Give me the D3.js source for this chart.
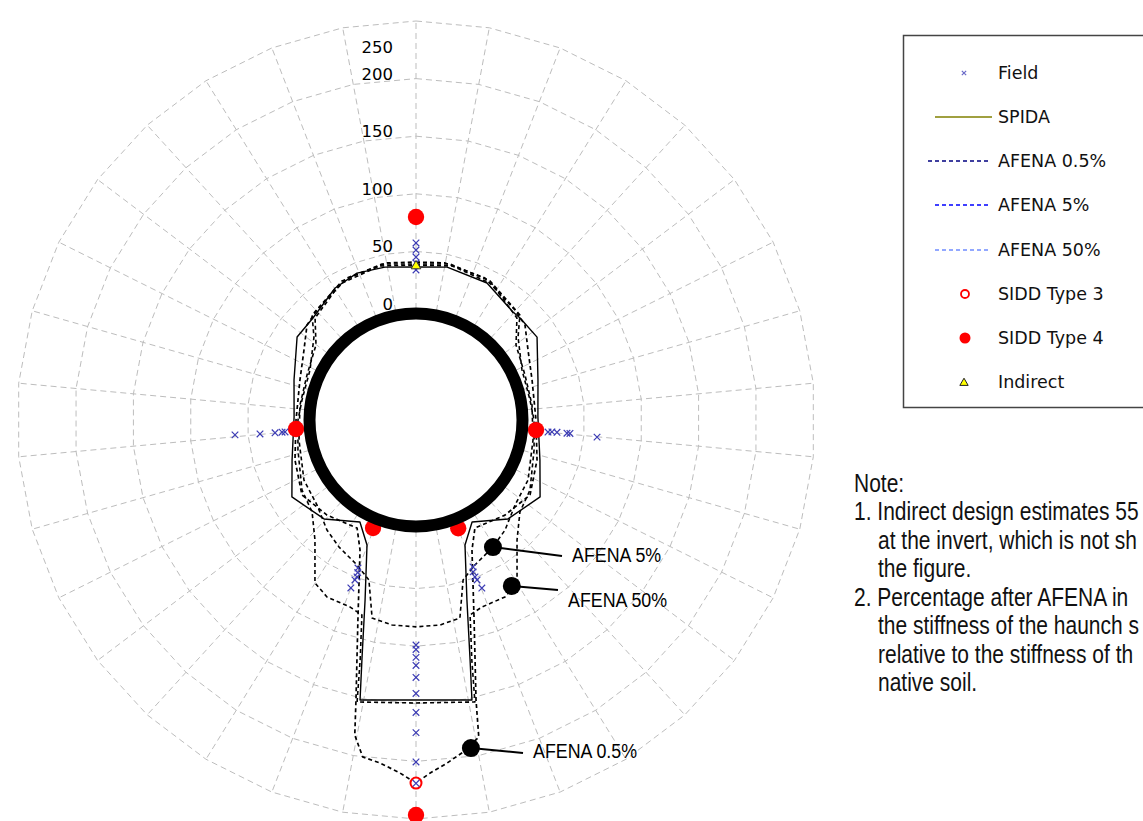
<!DOCTYPE html>
<html><head><meta charset="utf-8">
<script src="https://cdn.jsdelivr.net/npm/d3@7"></script>
<style>body{margin:0;background:#fff}</style>
</head><body><svg id="c" width="1143" height="821"></svg>
<script>
// ---------- DATA ----------
const radialTicks = [0, 50, 100, 150, 200, 250];
const spokeCount = 34;

// angles in degrees clockwise from crown, values in radial units
const spidaAngle = [0, 11.5, 27.4, 41.9, 45.6, 55.6, 71.8, 88.6, 107.9, 121.8, 137.1, 151.2, 158.6, 164.2, 167.3, 168.7, 180, 191.3, 192.7, 195.8, 201.4, 208.8, 222.9, 238.2, 252.1, 271.4, 288.2, 304.9, 314.7, 328.5, 338.1, 348.5];
const spidaValue = [36.5, 39.1, 37.6, 29.7, 30.1, 31, 15.1, 9.5, 16.7, 30.4, 20.9, 4.7, 20.2, 66, 117.2, 151.5, 146.7, 151.5, 117.2, 66, 20.2, 4.7, 20.9, 30.4, 16.7, 9.5, 15.1, 29.5, 29.5, 38, 41, 39.1];

const afena05Angle = [0, 10.5, 25.9, 42, 48.9, 58, 71, 90, 108.3, 123.3, 136.9, 151.4, 156.7, 163.8, 167.9, 168.8, 171.9, 174.8, 177.7, 180, 182.6, 186, 189, 191, 192.1, 196.2, 203.3, 208.6, 223.1, 236.7, 251.7, 270, 289, 302, 311.1, 318, 334.1, 349.5];
const afena05Value = [40.8, 42.3, 40.7, 32.1, 29.2, 18.3, 10.2, 7.8, 14.3, 22.1, 16.7, 10.5, 26.5, 84.4, 152.2, 184.2, 194.7, 202.6, 210.3, 218.8, 210.4, 203, 199.7, 182.2, 152.2, 84.4, 26.5, 10.5, 16.7, 22.1, 14.3, 7.8, 10.2, 18.3, 29.2, 32.1, 40.7, 42.3];

const afena5Angle = [0, 13.2, 29.2, 44.7, 53.1, 67.6, 82.6, 99.7, 118.2, 130.6, 141, 148.8, 157.9, 163.6, 167.5, 173.3, 180, 186.7, 192.5, 196.4, 202.1, 211.2, 219, 229.4, 241.8, 260.3, 277.4, 292.4, 306.9, 315.3, 330.8, 346.8];
const afena5Value = [38.2, 41, 38.9, 28.2, 12.2, 6, 5.2, 6.7, 14, 16.9, 26.5, 32.6, 39.5, 48.4, 79.7, 82.8, 83.2, 82.8, 79.7, 48.4, 39.5, 32.6, 26.5, 16.9, 14, 6.7, 5.2, 6, 12.2, 28.2, 38.9, 41];

const afena50Angle = [0, 12.3, 28, 44.7, 50.9, 64.7, 80, 90, 104.3, 121.6, 131.5, 139.9, 148.2, 153.3, 160.6, 164.5, 166.9, 168.2, 180, 191.8, 193.1, 195.5, 199.4, 206.7, 211.8, 220.1, 228.5, 238.4, 255.7, 270, 280, 295.3, 309.1, 315.3, 332, 347.7];
const afena50Value = [39.1, 42.3, 40.4, 31.9, 17.8, 5.4, 4.1, 6.1, 9.4, 19.8, 24.1, 39.8, 70.1, 75.6, 75.8, 79.3, 117.5, 153.7, 149.3, 153.7, 117.5, 79.3, 75.8, 75.6, 70.1, 39.8, 24.1, 19.8, 9.4, 6.1, 4.1, 5.4, 17.8, 31.9, 40.4, 42.3];

const fieldAngle = [0, 0, 0, 0, 0, 95.2, 95, 95, 95, 95, 95.4, 264.8, 264.8, 264.8, 264.9, 265.3, 158.8, 159.4, 159.4, 159.1, 158.6, 201.4, 200.9, 200.6, 200.9, 201.2, 180, 180, 180, 180, 180, 180, 180, 180, 180, 180];
const fieldValue = [57.3, 51.2, 45.1, 39.9, 33.9, 18.7, 22.1, 26.5, 35.2, 37.8, 61.5, 17.8, 20.4, 26.5, 39.6, 61.3, 40.5, 44.5, 49.2, 52.3, 60.3, 41.7, 45.4, 49.2, 52.3, 60, 99, 102.8, 109.7, 116.7, 127.1, 141, 157.5, 175, 200.5, 219];

const sidd3Angle = [0, 94.8, 158.7, 180, 201.7, 265.7];
const sidd3Value = [79.9, 8.2, 4.5, 218.8, 4.5, 8.1];
const sidd4Angle = [0, 94.8, 158.7, 180, 201.7, 265.7];
const sidd4Value = [79.9, 8.2, 4.5, 246.5, 4.5, 8.1];
const indirectAngle = [0];
const indirectValue = [37.3];

const legendLabels = ["Field", "SPIDA", "AFENA 0.5%", "AFENA 5%", "AFENA 50%", "SIDD Type 3", "SIDD Type 4", "Indirect"];
const calloutLabels = ["AFENA 5%", "AFENA 50%", "AFENA 0.5%"];
const calloutAngle = [148.8, 150, 170.5];
const calloutValue = [32.6, 70, 192.4];
const noteLines = ["Note:", "1. Indirect design estimates 55", "at the invert, which is not sh", "the figure.", "2. Percentage after AFENA in", "the stiffness of the haunch s", "relative to the stiffness of th", "native soil."];

// ---------- LAYOUT ----------
const W = 1143, H = 821, cx = 416, cy = 420;
const svg = d3.select('#c');
svg.append('rect').attr('width', W).attr('height', H).attr('fill', '#fff');
const r = d3.scaleLinear().domain([0, 250]).range([111, 399]);
const rad = d => d * Math.PI / 180;
const g = svg.append('g').attr('transform', `translate(${cx},${cy})`);
const narrow = 'Liberation Sans, Arial, sans-serif';

// grid: polygon rings + spokes
const spokeAngles = d3.range(spokeCount).map(i => i * 2 * Math.PI / spokeCount);
const ringLine = d3.lineRadial().angle(d => d[0]).radius(d => r(d[1])).curve(d3.curveLinearClosed);
const grid = g.append('g').attr('fill', 'none').attr('stroke', '#bdbdbd').attr('stroke-width', 1).attr('stroke-dasharray', '6,4');
radialTicks.forEach(t => grid.append('path').attr('d', ringLine(spokeAngles.map(a => [a, t]))));
spokeAngles.forEach(a => {
  const p0 = d3.pointRadial(a, r(0)), p1 = d3.pointRadial(a, r(250));
  grid.append('line').attr('x1', p0[0]).attr('y1', p0[1]).attr('x2', p1[0]).attr('y2', p1[1]);
});

// series lines (drawn black as in the figure)
const seriesLine = d3.lineRadial().angle(d => rad(d[0])).radius(d => r(d[1])).curve(d3.curveLinearClosed);
function drawLine(A, V, dash, w) {
  g.append('path').attr('d', seriesLine(A.map((a, i) => [a, V[i]])))
    .attr('fill', 'none').attr('stroke', '#000').attr('stroke-width', w)
    .attr('stroke-dasharray', dash).attr('stroke-linejoin', 'round');
}
drawLine(afena50Angle, afena50Value, '4,3', 1.6);
drawLine(afena5Angle, afena5Value, '4,3', 1.6);
drawLine(afena05Angle, afena05Value, '4,3', 1.7);
drawLine(spidaAngle, spidaValue, null, 1.4);

const pt = (a, v) => d3.pointRadial(rad(a), r(v));

// markers
sidd3Angle.forEach((a, i) => {
  const p = pt(a, sidd3Value[i]);
  g.append('circle').attr('cx', p[0]).attr('cy', p[1]).attr('r', 5.5).attr('fill', '#fff').attr('stroke', '#ff0000').attr('stroke-width', 2);
});
const sidd4Sym = d3.symbol(d3.symbolCircle, 210);
sidd4Angle.forEach((a, i) => {
  const p = pt(a, sidd4Value[i]);
  g.append('path').attr('d', sidd4Sym()).attr('transform', `translate(${p})`).attr('fill', '#ff0000');
});
const xSym = d3.symbol(d3.symbolTimes, 30);
fieldAngle.forEach((a, i) => {
  const p = pt(a, fieldValue[i]);
  g.append('path').attr('d', xSym()).attr('transform', `translate(${p})`).attr('fill', 'none').attr('stroke', '#3c3cb4').attr('stroke-width', 1.2);
});
const triSym = d3.symbol(d3.symbolTriangle, 40);
indirectAngle.forEach((a, i) => {
  const p = pt(a, indirectValue[i]);
  g.append('path').attr('d', triSym()).attr('transform', `translate(${p})`).attr('fill', '#ffff00').attr('stroke', '#333').attr('stroke-width', 1);
});

// pipe
g.append('circle').attr('r', 106.5).attr('fill', '#fff').attr('stroke', '#000').attr('stroke-width', 12);

// radial tick labels
radialTicks.forEach(t => {
  g.append('text').attr('x', -23).attr('y', Math.max(-r(t) + 1, 53 - cy)).attr('text-anchor', 'end')
    .attr('font-family', 'DejaVu Sans').attr('font-size', 16.5).attr('fill', '#000').text(t);
});

// callouts
const calloutTextPos = [[572, 555], [568, 600], [533, 751]];
const calloutLineEnd = [[562, 556], [558, 590], [523, 753]];
calloutLabels.forEach((lab, i) => {
  const p = pt(calloutAngle[i], calloutValue[i]);
  svg.append('line').attr('x1', p[0] + cx).attr('y1', p[1] + cy).attr('x2', calloutLineEnd[i][0]).attr('y2', calloutLineEnd[i][1])
    .attr('stroke', '#000').attr('stroke-width', 2);
  svg.append('circle').attr('cx', p[0] + cx).attr('cy', p[1] + cy).attr('r', 9).attr('fill', '#000');
  svg.append('text').attr('transform', `translate(${calloutTextPos[i][0]},${calloutTextPos[i][1]}) scale(0.85,1)`).attr('dy', '0.35em')
    .attr('font-family', narrow).attr('font-size', 21).text(lab);
});

// legend
const lg = svg.append('g');
lg.append('rect').attr('x', 903.5).attr('y', 35.5).attr('width', 300).attr('height', 372).attr('fill', '#fff').attr('stroke', '#444').attr('stroke-width', 1.5);
const ly = [73, 117, 161, 205, 250, 294, 338, 382];
legendLabels.forEach((lab, i) => {
  lg.append('text').attr('x', 998).attr('y', ly[i]).attr('dy', '0.36em').attr('font-family', 'DejaVu Sans').attr('font-size', 17.5).attr('fill', '#111').text(lab);
});
lg.append('path').attr('d', d3.symbol(d3.symbolTimes, 14)()).attr('transform', `translate(964,${ly[0]})`).attr('fill', 'none').attr('stroke', '#6a6ac8').attr('stroke-width', 1.2);
lg.append('line').attr('x1', 935).attr('x2', 992).attr('y1', ly[1]).attr('y2', ly[1]).attr('stroke', '#808000').attr('stroke-width', 1.5);
[['#000080', 928], ['#0000ff', 935], ['#6f8cff', 935]].forEach((c, k) => {
  lg.append('line').attr('x1', c[1]).attr('x2', 990).attr('y1', ly[2 + k]).attr('y2', ly[2 + k]).attr('stroke', c[0]).attr('stroke-width', 1.3).attr('stroke-dasharray', '4,3');
});
lg.append('circle').attr('cx', 965).attr('cy', ly[5]).attr('r', 4).attr('fill', '#fff').attr('stroke', '#ff0000').attr('stroke-width', 1.8);
lg.append('circle').attr('cx', 965).attr('cy', ly[6]).attr('r', 5.5).attr('fill', '#ff0000');
lg.append('path').attr('d', d3.symbol(d3.symbolTriangle, 30)()).attr('transform', `translate(964,${ly[7] + 1})`).attr('fill', '#ffff00').attr('stroke', '#222').attr('stroke-width', 1);

// note text (condensed)
const noteY = [483, 511.5, 540, 568.5, 597, 625.5, 654, 682.5];
const noteX = [854, 854, 878, 878, 854, 878, 878, 878];
noteLines.forEach((t, i) => {
  svg.append('text').attr('transform', `translate(${noteX[i]},${noteY[i]}) scale(0.84,1)`).attr('dy', '0.35em')
    .attr('font-family', narrow).attr('font-size', 25).attr('fill', '#111').text(t);
});
</script></body></html>
